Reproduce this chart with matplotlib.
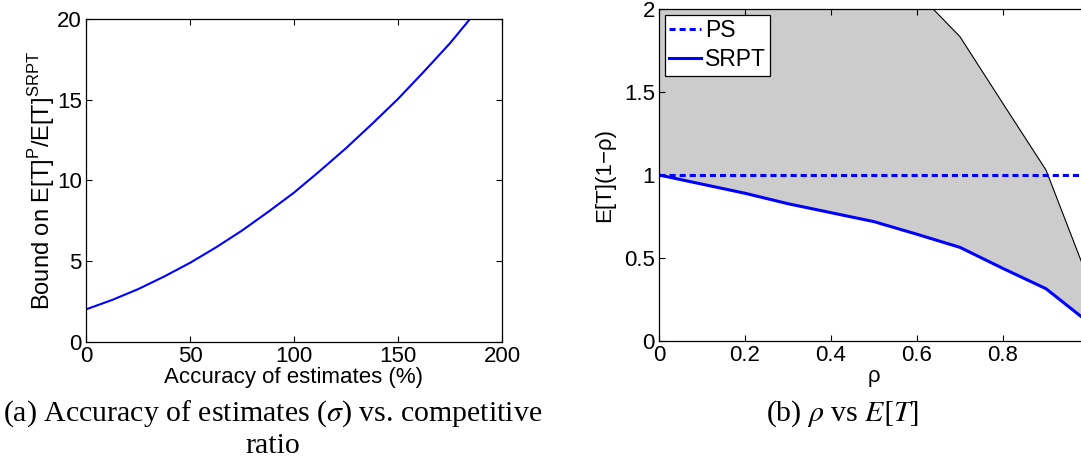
import numpy as np
import matplotlib
matplotlib.use("Agg")
import matplotlib.pyplot as plt

plt.rcParams["font.family"] = ["Liberation Sans", "DejaVu Sans"]
plt.rcParams["font.size"] = 16

# (a) bound vs accuracy of estimates
sigma = [0, 12.5, 25, 37.5, 50, 62.5, 75, 87.5, 100, 112.5, 125, 137.5, 150, 162.5, 175, 184.6]
bound = [2.02, 2.6, 3.27, 4.05, 4.9, 5.86, 6.9, 8.05, 9.25, 10.6, 12.0, 13.5, 15.05, 16.75, 18.5, 20.0]

# (b) rho vs E[T](1-rho)
rho = [0, 0.1, 0.2, 0.3, 0.4, 0.5, 0.6, 0.7, 0.8, 0.9, 1.0]
ps = [1, 1, 1, 1, 1, 1, 1, 1, 1, 1, 1]
srpt = [1.0, 0.945, 0.89, 0.827, 0.773, 0.719, 0.643, 0.564, 0.437, 0.315, 0.11]
upper = [3.0, 3.0, 3.0, 3.0, 3.0, 2.5, 2.1, 1.833, 1.43, 1.03, 0.36]

W, H = 1081, 473
fig = plt.figure(figsize=(W / 100, H / 100), dpi=100)

def style(ax):
    ax.tick_params(direction="in", top=True, right=True, length=4, width=0.8, pad=3)
    for s in ax.spines.values():
        s.set_linewidth(0.9)

# ---- left panel
ax1 = fig.add_axes([86 / W, (H - 342) / H, 416 / W, 323 / H])
ax1.plot(sigma, bound, color="blue", lw=1.5)
ax1.set_xlim(0, 200)
ax1.set_ylim(0, 20)
ax1.set_xticks([0, 50, 100, 150, 200])
ax1.set_yticks([0, 5, 10, 15, 20])
ax1.set_xlabel("Accuracy of estimates (%)", labelpad=0)
ax1.set_ylabel(r"Bound on E[T]$^{\mathregular{P}}$/E[T]$^{\mathregular{SRPT}}$", labelpad=0, fontsize=17)
style(ax1)

# ---- right panel (extends past the figure edge, as in the original)
ax2 = fig.add_axes([659 / W, (H - 341) / H, 430 / W, 332 / H])
ax2.fill_between(rho, srpt, upper, color="#cccccc", lw=0)
ax2.plot(rho, upper, color="black", lw=0.8)
ax2.plot(rho, ps, color="blue", lw=2.2, ls=(0, (2, 1.3)), label="PS")
ax2.plot(rho, srpt, color="blue", lw=2.2, label="SRPT")
ax2.set_xlim(0, 1)
ax2.set_ylim(0, 2)
ax2.set_xticks([0, 0.2, 0.4, 0.6, 0.8, 1.0])
ax2.set_xticklabels(["0", "0.2", "0.4", "0.6", "0.8", ""])
ax2.set_yticks([0, 0.5, 1, 1.5, 2])
ax2.set_yticklabels(["0", "0.5", "1", "1.5", "2"])
ax2.set_xlabel("ρ", labelpad=0)
ax2.set_ylabel("E[T](1−ρ)", labelpad=6)
leg = ax2.legend(loc="upper left", frameon=True, fancybox=False, framealpha=1,
                 edgecolor="black", handlelength=1.4, handletextpad=0.15,
                 borderpad=0.2, labelspacing=0.25, borderaxespad=0.25, fontsize=16.5)
leg.get_frame().set_linewidth(0.9)
style(ax2)

# ---- captions
cap = dict(ha="center", va="center", family="Liberation Serif", fontsize=21.5,
           math_fontfamily="stix")
fig.text(273 / W, 1 - 414 / H, "(a) Accuracy of estimates ($\\sigma$) vs. competitive", **cap)
fig.text(273 / W, 1 - 446 / H, "ratio", **cap)
fig.text(842 / W, 1 - 414 / H, "(b) $\\rho$ vs $E[T]$", **cap)

fig.savefig("out.png", dpi=100)
